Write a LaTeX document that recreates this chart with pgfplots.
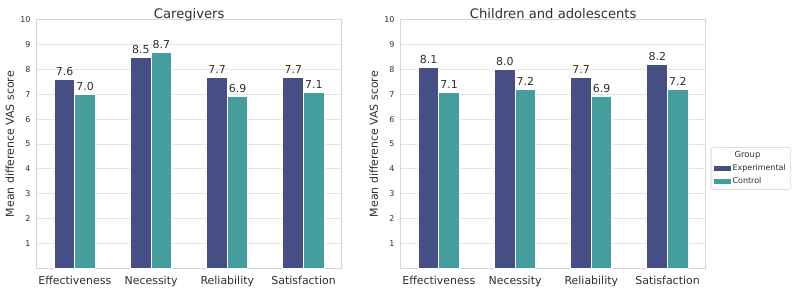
\documentclass[border=0pt]{standalone}
\usepackage{fontspec}
\setmainfont{DejaVu Sans}
\usepackage{pgfplots}
\pgfplotsset{compat=1.18}

\definecolor{expc}{HTML}{464F85}
\definecolor{ctrlc}{HTML}{459E9D}
\definecolor{gridc}{HTML}{E4E4E4}
\definecolor{framec}{HTML}{D6D6D6}
\definecolor{txt}{HTML}{2E2E2E}
\definecolor{legc}{HTML}{DDDDDD}

% Mean difference VAS scores per dimension (0 = Effectiveness ... 3 = Satisfaction)
\pgfplotstableread{
x exp ctrl
0 7.6 7.0
1 8.5 8.7
2 7.7 6.9
3 7.7 7.1
}\caregivers
\pgfplotstableread{
x exp ctrl
0 8.1 7.1
1 8.0 7.2
2 7.7 6.9
3 8.2 7.2
}\children

\pgfplotsset{
  vaspanel/.style={
    scale only axis, width=305bp, height=248.3bp,
    anchor=south west,
    xmin=-0.5, xmax=3.5, ymin=0, ymax=10,
    xtick={0,1,2,3},
    xticklabels={Effectiveness,Necessity,Reliability,Satisfaction},
    ytick={1,...,10},
    major tick length=0pt,
    ymajorgrids,
    grid style={gridc, line width=1bp},
    axis line style={framec, line width=1bp},
    xticklabel style={font=\fontsize{11}{13}\selectfont, text=txt, inner sep=0pt, anchor=north, yshift=-8bp},
    yticklabel style={font=\fontsize{8}{9}\selectfont, text=txt, inner sep=0pt, anchor=east, xshift=-6bp},
    /pgf/number format/assume math mode=true,
    title style={font=\fontsize{13.2}{15}\selectfont, text=txt, at={(rel axis cs:0.5,1)}, anchor=base, inner sep=0pt, yshift=-4bp},
    ylabel={Mean difference VAS score},
    ylabel style={font=\fontsize{11}{13}\selectfont, text=txt, at={(rel axis cs:0,0.5)}, anchor=center, inner sep=0pt, yshift=27bp},
    ybar,
    bar width=0.27,
    nodes near coords={\pgfmathprintnumber[fixed,zerofill,precision=1,assume math mode=true]{\pgfplotspointmeta}},
    every node near coord/.append style={font=\fontsize{11}{13}\selectfont, text=txt, draw=none, fill=none, inner sep=0pt, anchor=south, yshift=3.5bp},
  },
  expbar/.style={fill=expc, draw=white, line width=1bp, bar shift=-0.135},
  ctrlbar/.style={fill=ctrlc, draw=white, line width=1bp, bar shift=0.135},
}

\begin{document}
\begin{tikzpicture}
\useasboundingbox (0,0) rectangle (800bp,305bp);

\begin{axis}[vaspanel, at={(36.7bp,36.7bp)}, title={Caregivers}]
  \addplot[expbar] table[x=x, y=exp] {\caregivers};
  \addplot[ctrlbar] table[x=x, y=ctrl] {\caregivers};
\end{axis}

\begin{axis}[vaspanel, at={(400.7bp,36.7bp)}, title={Children and adolescents},
  legend cell align=left,
  legend image code/.code={\fill[#1, draw=none, sharp corners] (0bp,-2.3bp) rectangle (16.5bp,2.3bp);},
  legend style={at={(rel axis cs:1,0.402)}, anchor=west, xshift=5bp,
    draw=legc, line width=0.8bp, rounded corners=2bp, fill=white,
    font=\fontsize{8}{9}\selectfont, text=txt,
    inner xsep=3bp, inner ysep=2bp, row sep=1.5bp,
    /tikz/every even column/.append style={column sep=5bp}},
]
  \addlegendimage{empty legend}
  \addlegendentry{\makebox[0pt][l]{\hspace{2bp}\fontsize{8.5}{9}\selectfont Group}}
  \addplot[expbar] table[x=x, y=exp] {\children};
  \addlegendentry{Experimental}
  \addplot[ctrlbar] table[x=x, y=ctrl] {\children};
  \addlegendentry{Control}
\end{axis}
\end{tikzpicture}
\end{document}
